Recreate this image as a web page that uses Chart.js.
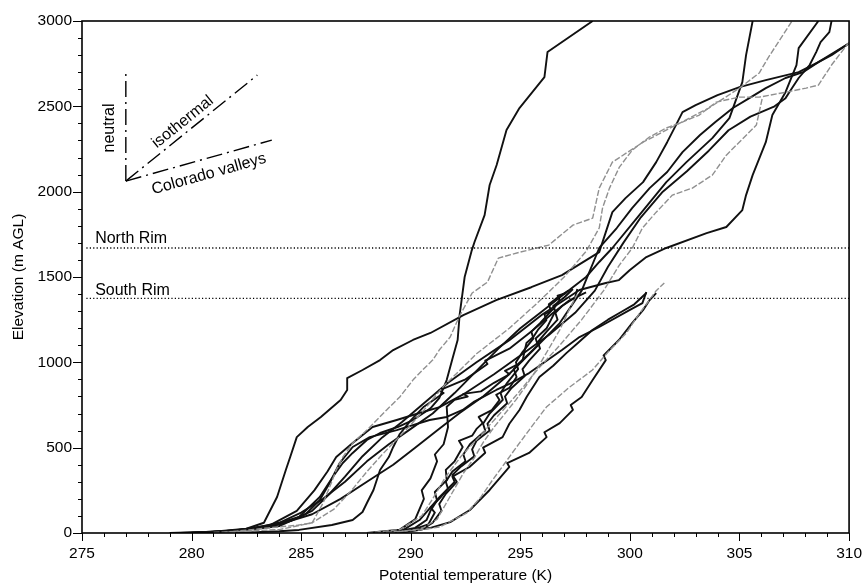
<!DOCTYPE html>
<html>
<head>
<meta charset="utf-8">
<script src="https://cdn.jsdelivr.net/npm/chart.js@4.4.1/dist/chart.umd.min.js"></script>
<style>
  body { margin: 0; background: #fff; }
</style>
</head>
<body>
<canvas id="chart" width="865" height="586"></canvas>
<script>
// tick labels
const xTicks = [275, 280, 285, 290, 295, 300, 305, 310];
const yTicks = [0, 500, 1000, 1500, 2000, 2500, 3000];

// rim elevations (m AGL)
const northRim = 1670;
const southRim = 1375;

// reference lapse lines from a common origin (K, m)
const neutralLine = [[277, 2062], [277, 2712]];
const isothermalLine = [[277, 2062], [283, 2683]];
const valleyLine = [[277, 2062], [283.66, 2302]];

// soundings: [potential temperature K, elevation m]
const sondeA = [[279,0],[281,8],[282.5,25],[283.3,60],[283.9,211],[284.3,369],[284.5,445],[284.8,562],[285.3,621],[285.9,680],[286.8,779],[287.1,838],[287.1,908],[287.8,955],[288.6,1013],[289.2,1072],[290.1,1131],[290.9,1172],[292.4,1277],[293.9,1365],[295.5,1440],[296.9,1511],[298.6,1646],[298.9,1763],[299.2,1880],[299.8,1962],[300.6,2056],[301.2,2173],[301.7,2290],[302.1,2390],[302.4,2466],[303,2507],[304,2566],[305,2613],[306.2,2654],[307.7,2700],[308.6,2759],[310,2870]];
const sondeB = [[280,2],[282,15],[283.5,45],[284,59],[284.9,94],[285.85,211],[286.44,328],[286.9,410],[287.35,469],[288,545],[288.6,586],[289.4,621],[290.1,662],[290.9,730],[291.3,790],[291.64,896],[291.9,1020],[292.14,1131],[292.23,1277],[292.32,1365],[292.46,1500],[292.77,1650],[292.91,1705],[293.37,1863],[293.6,2039],[293.92,2156],[294.37,2361],[294.96,2490],[296.1,2671],[296.24,2818],[298.3,3000]];
const sondeC = [[281.5,3],[283.5,30],[284.8,45],[285.5,59],[286,176],[286.3,269],[286.6,369],[286.9,445],[287.35,527],[288,603],[288.9,721],[289.5,797],[290.1,896],[290.54,955],[291,1013],[291.3,1072],[291.8,1148],[292.2,1265],[292.8,1406],[293.5,1470],[294,1611],[295,1646],[296.3,1687],[297.4,1804],[298.3,1845],[298.6,2021],[299.2,2173],[300.6,2290],[302.1,2390],[303.6,2490],[305,2607],[305.9,2695],[306.3,2783],[307.4,3000]];
const sondeD = [[279.5,0],[281.5,10],[283,30],[284.5,70],[285.5,130],[286.3,230],[287,330],[287.8,450],[288.7,560],[289.6,650],[290.6,760],[291.7,880],[293,1000],[294.5,1130],[296,1280],[297.7,1424],[298.9,1465],[299.5,1482],[300,1541],[300.75,1617],[301.66,1670],[303.5,1757],[304.4,1793],[305.13,1892],[305.3,1980],[305.6,2097],[306.2,2290],[306.5,2449],[307.1,2583],[307.6,2742],[307.7,2841],[308.6,3000]];
const sondeE = [[280,0],[282,10],[284,40],[285.2,110],[285.85,193],[286.3,293],[286.76,410],[287.35,504],[288.13,562],[289.36,603],[290.86,662],[291.64,680],[292.37,721],[292.9,770],[293.9,838],[294.6,880],[295.4,937],[296.1,1000],[296.9,1072],[297.7,1148],[298.6,1207],[299.98,1306],[300.57,1347],[300.75,1412]];
const sondeF = [[282,0],[284,10],[284.9,18],[286.4,47],[287.35,76],[287.8,123],[288,176],[288.3,252],[288.6,369],[289,445],[289.2,504],[289.5,580],[290,660],[290.6,740],[291.5,820],[291.3,835],[292.5,900],[293.5,990],[293.4,1010],[294.5,1080],[295.5,1180],[296.5,1290],[297.2,1360],[298,1410]];
const sondeG = [[281.5,5],[283.5,40],[284.8,130],[285.6,250],[286.2,360],[286.6,445],[287.35,527],[288.26,621],[289.36,662],[290.4,703],[291.32,738],[292.5,820],[293.8,930],[295,1040],[296.3,1160],[297.5,1290],[298.4,1420],[299,1560],[299.7,1700],[300.5,1850],[301.5,2000],[302.6,2120],[303.6,2240],[304.5,2360],[305.5,2440],[306.6,2500],[307.1,2548],[307.4,2607],[307.7,2666],[308.2,2742],[308.5,2818],[308.7,2876],[309.1,2935],[309.2,3000]];
const sondeH = [[280.5,3],[282.5,20],[284,60],[285,120],[286,200],[287,300],[288,420],[289,520],[290,610],[291,700],[292,820],[293,950],[294,1080],[295,1200],[296,1300],[297,1400],[298,1500],[298.6,1588],[299.2,1670],[300.43,1863],[301.66,2056],[302.58,2173],[303.76,2314],[304.54,2431],[305.13,2642],[305.3,2800],[305.6,3000]];
const sondeI = [[281,3],[284,20],[285.5,60],[286.5,140],[287.3,250],[288,360],[288.7,460],[289.3,540],[289.9,620],[290.6,720],[291.5,860],[293,1050],[294.5,1200],[295.8,1350],[297,1500],[298,1650],[298.6,1787],[298.75,1904],[299.07,2021],[299.52,2144],[300.11,2244],[300.89,2320],[301.66,2373],[302.39,2408],[303.17,2449],[303.94,2525],[304.99,2554],[305.9,2554],[307.13,2583],[308.04,2607],[308.6,2624],[309.2,2742],[310,2876]];
const sondeJ = [[282,10],[284,50],[285.5,110],[286.8,200],[288,300],[289.2,400],[290.2,500],[291.2,600],[292.2,700],[293.3,800],[294.4,920],[295.5,1060],[296.8,1230],[297.8,1420],[298.6,1670],[299.4,1787],[300.1,1904],[300.9,2021],[301.7,2115],[302.4,2232],[303.2,2332],[303.9,2408],[304.7,2490],[305.45,2548],[306.2,2607],[307.1,2666],[307.9,2700],[308.6,2759],[309.2,2800],[310,2870]];
const sondeK = [[288,0],[289.5,20],[290.5,100],[291,200],[291.6,330],[292.3,450],[293.1,560],[294,690],[294.9,820],[295.8,960],[296.8,1100],[297.8,1250],[298.8,1420],[299.52,1570],[300.11,1670],[300.57,1787],[301.2,1880],[301.94,1980],[302.85,2021],[303.76,2097],[304.4,2214],[304.99,2290],[305.77,2390],[306.04,2548]];
const sondeM1 = [[289,0],[290.2,30],[290.72,76],[290.9,130],[291.2,190],[291.1,240],[291.64,310],[291.6,370],[292,420],[292.37,504],[292.2,540],[292.8,570],[293,610],[293.28,644],[293.1,680],[293.7,720],[294.05,779],[293.9,810],[294.5,850],[294.83,914],[294.7,960],[295.1,1010],[295.28,1113],[295.6,1150],[295.8,1190],[296.19,1248],[296.1,1280],[296.5,1310],[296.79,1365],[296.7,1390],[297.1,1406]];
const sondeM2 = [[289.5,0],[290.5,20],[291,60],[291.4,130],[291.3,170],[291.6,230],[292.1,300],[291.9,340],[292.3,390],[292.9,450],[292.8,490],[293,540],[293.6,600],[293.5,640],[293.8,690],[294.4,760],[294.3,800],[294.6,850],[295.2,920],[295.1,960],[295.4,1010],[295.9,1080],[295.8,1120],[296.2,1180],[296.7,1250],[296.6,1290],[296.9,1330],[297.5,1380],[297.6,1430]];
const sondeM3 = [[288.5,0],[290,15],[290.8,50],[291.1,120],[290.9,150],[291.3,200],[291.7,260],[291.6,300],[291.9,360],[292.5,420],[292.4,460],[292.7,520],[293.4,600],[293.3,640],[293.6,700],[294.2,780],[294.1,820],[294.4,880],[294.9,960],[294.8,1000],[295.1,1060],[295.6,1140],[295.5,1180],[295.9,1230],[296.4,1300],[296.3,1340],[296.7,1380],[297.2,1420]];
const sondeM4 = [[288,0],[289.5,20],[290.2,80],[290.6,200],[290.5,250],[290.9,320],[291.2,420],[291.1,460],[291.5,520],[291.7,620],[291.64,740],[292,780],[292.6,800],[292.4,815],[293.2,830],[293.8,880],[294.5,930],[294.3,950],[294.9,990],[295.4,1050],[295.8,1100],[295.7,1140],[296.2,1200],[296.6,1300],[296.5,1330],[297,1380],[297.4,1430]];
const sondeM5 = [[289,0],[290.5,25],[291.2,80],[291.6,170],[292,260],[292.4,350],[292.9,440],[293.3,530],[293.8,620],[294.3,700],[294.8,780],[295.3,870],[295.8,970],[296.3,1080],[296.8,1190],[297.2,1300],[297.6,1400]];
const sondeR1 = [[288.5,0],[290.4,18],[291.32,35],[292.55,117],[293.2,210],[293.73,310],[294.3,410],[294.83,504],[295.5,620],[296.19,738],[297.2,850],[298.29,955],[299,1060],[299.84,1172],[300.4,1280],[300.89,1365],[301.2,1420],[301.57,1465]];
const sondeR2 = [[289.5,5],[290.4,76],[291.32,211],[292,300],[291.9,330],[292.68,387],[293.4,470],[293.3,500],[294.19,562],[294.5,640],[294.96,721],[295.3,800],[295.87,914],[296.5,980],[297.1,1054],[297.6,1110],[298.29,1189],[299,1250],[299.52,1289],[300.2,1340],[300.75,1406]];
const sondeR3 = [[289,0],[290.86,29],[291.8,64],[292.7,135],[293.6,252],[294.5,387],[294.4,410],[295.4,469],[296.2,562],[296.1,590],[296.8,644],[297.4,721],[297.3,750],[297.8,797],[298.3,896],[298.9,1013],[298.8,1040],[299.5,1131],[300.1,1230],[300.6,1306],[300.9,1365],[301.2,1406]];

const graySondes = [sondeC, sondeI, sondeK, sondeM5, sondeR1];
const blackSondes = [sondeA, sondeB, sondeD, sondeE, sondeF, sondeG, sondeH, sondeJ, sondeM1, sondeM2, sondeM3, sondeM4, sondeR2, sondeR3];

const FONT = '"Liberation Sans", Arial, Helvetica, sans-serif';
const pts = arr => arr.map(p => ({ x: p[0], y: p[1] }));

const datasets = [];
[northRim, southRim].forEach(e => datasets.push({
  data: pts([[275.2, e], [310, e]]),
  borderColor: '#000', borderWidth: 1.3, borderDash: [1.2, 2.2]
}));
[neutralLine, isothermalLine, valleyLine].forEach(l => datasets.push({
  data: pts(l),
  borderColor: '#000', borderWidth: 1.4, borderDash: [16, 5, 2, 5]
}));
graySondes.forEach(s => datasets.push({
  data: pts(s), borderColor: '#909090', borderWidth: 1.4, borderDash: [6, 2]
}));
blackSondes.forEach(s => datasets.push({
  data: pts(s), borderColor: '#111', borderWidth: 1.9
}));

// frame, minor/major tick marks and in-plot annotations
const decor = {
  id: 'decor',
  afterDatasetsDraw(chart) {
    const { ctx, chartArea: a, scales: { x, y } } = chart;
    ctx.save();
    ctx.strokeStyle = '#000';
    ctx.lineWidth = 1.6;
    ctx.strokeRect(a.left, a.top, a.right - a.left, a.bottom - a.top);

    ctx.lineWidth = 1;
    ctx.beginPath();
    for (let t = 275; t <= 310; t++) {
      const px = Math.round(x.getPixelForValue(t)) + 0.5;
      ctx.moveTo(px, a.bottom);
      ctx.lineTo(px, a.bottom + (t % 5 === 0 ? 8 : 4));
    }
    for (let e = 0; e <= 3000; e += 100) {
      const py = Math.round(y.getPixelForValue(e)) + 0.5;
      ctx.moveTo(a.left, py);
      ctx.lineTo(a.left - (e % 500 === 0 ? 9 : 4), py);
    }
    ctx.stroke();

    ctx.fillStyle = '#000';
    ctx.font = '16px ' + FONT;
    ctx.textAlign = 'left';
    ctx.textBaseline = 'alphabetic';
    ctx.fillText('North Rim', x.getPixelForValue(275.6), y.getPixelForValue(northRim + 28));
    ctx.fillText('South Rim', x.getPixelForValue(275.6), y.getPixelForValue(southRim + 20));

    const label = (text, tx, ey, line) => {
      const x0 = x.getPixelForValue(line[0][0]), y0 = y.getPixelForValue(line[0][1]);
      const x1 = x.getPixelForValue(line[1][0]), y1 = y.getPixelForValue(line[1][1]);
      ctx.save();
      ctx.translate(x.getPixelForValue(tx), y.getPixelForValue(ey));
      ctx.rotate(Math.atan2(y1 - y0, x1 - x0));
      ctx.textAlign = 'center';
      ctx.textBaseline = 'middle';
      ctx.fillText(text, 0, 0);
      ctx.restore();
    };
    label('neutral', 276.28, 2373, neutralLine);
    label('isothermal', 279.6, 2408, isothermalLine);
    label('Colorado valleys', 280.79, 2103, valleyLine);
    ctx.restore();
  }
};

const tickFont = { family: FONT, size: 15.5 };

new Chart(document.getElementById('chart'), {
  type: 'line',
  data: { datasets },
  options: {
    responsive: false,
    animation: false,
    devicePixelRatio: 1,
    layout: { padding: { top: 21, right: 15, left: 0, bottom: 0 } },
    elements: { point: { radius: 0 }, line: { tension: 0, borderCapStyle: 'butt', borderJoinStyle: 'round' } },
    plugins: { legend: { display: false }, tooltip: { enabled: false } },
    scales: {
      x: {
        type: 'linear', min: 275, max: 310,
        afterBuildTicks: s => { s.ticks = xTicks.map(v => ({ value: v })); },
        ticks: { color: '#000', font: tickFont, padding: 3, maxRotation: 0, callback: v => String(v) },
        grid: { drawOnChartArea: false, tickLength: 8, color: 'rgba(0,0,0,0)' },
        border: { display: false },
        title: { display: true, text: 'Potential temperature (K)', color: '#000', font: tickFont, padding: { top: 2, bottom: 1 } },
        afterFit: s => { s.height = 53; }
      },
      y: {
        type: 'linear', min: 0, max: 3000,
        afterBuildTicks: s => { s.ticks = yTicks.map(v => ({ value: v })); },
        ticks: { color: '#000', font: tickFont, padding: 1, callback: v => String(v) },
        grid: { drawOnChartArea: false, tickLength: 9, color: 'rgba(0,0,0,0)' },
        border: { display: false },
        title: { display: true, text: 'Elevation (m AGL)', color: '#000', font: tickFont, padding: { top: 9, bottom: 2 } },
        afterFit: s => { s.width = 82; }
      }
    }
  },
  plugins: [decor]
});
</script>
</body>
</html>
